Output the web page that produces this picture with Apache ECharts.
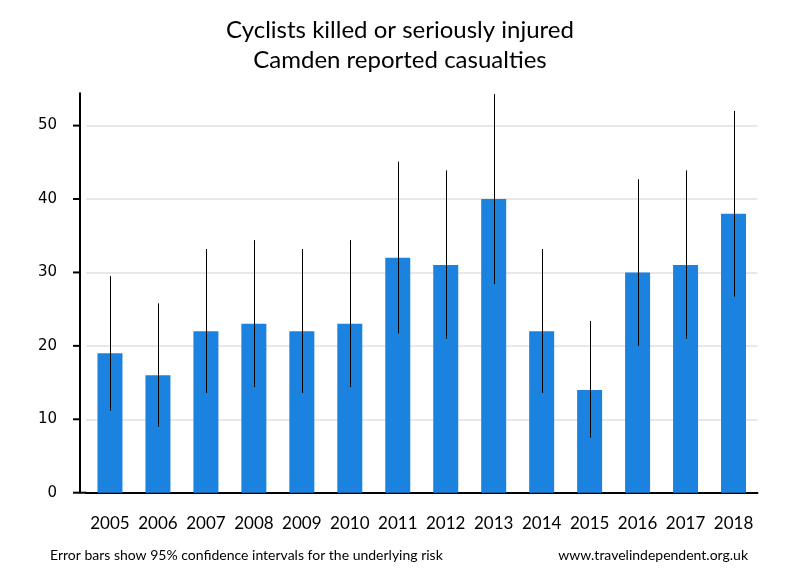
<!DOCTYPE html>
<html>
<head>
<meta charset="utf-8">
<script src="https://cdn.jsdelivr.net/npm/echarts@6/dist/echarts.min.js"></script>
<style>html,body{margin:0;padding:0;background:#fff}#c{width:800px;height:580px}</style>
</head>
<body>
<div id="c"></div>
<script>
const years = ['2005','2006','2007','2008','2009','2010','2011','2012','2013','2014','2015','2016','2017','2018'];
const casualties = [19,16,22,23,22,23,32,31,40,22,14,30,31,38];
const ciLow  = [11.2, 9.0, 13.6, 14.4, 13.6, 14.4, 21.7, 21.0, 28.4, 13.6, 7.5, 20.0, 21.0, 26.7];
const ciHigh = [29.5, 25.8, 33.2, 34.4, 33.2, 34.4, 45.1, 43.9, 54.3, 33.2, 23.4, 42.7, 43.9, 52.0];
const yTicks = [0,10,20,30,40,50];

const AXIS_OFFSET = 6;
const TICK_LEN = 7;

const chart = echarts.init(document.getElementById('c'), null, {renderer:'canvas'});
chart.setOption({
  animation: false,
  backgroundColor: '#ffffff',
  title: [
    {
      text: 'Cyclists killed or seriously injured\nCamden reported casualties',
      left: 'center', top: 10,
      textStyle: {fontFamily: 'Lato', fontSize: 24, fontWeight: 'normal', color: '#000', lineHeight: 30, align: 'center'}
    },
    {
      text: 'Error bars show 95% confidence intervals for the underlying risk',
      left: 45, top: 543,
      textStyle: {fontFamily: 'Lato', fontSize: 14, fontWeight: 'normal', color: '#000'}
    },
    {
      text: 'www.travelindependent.org.uk',
      right: 47, top: 543,
      textStyle: {fontFamily: 'Lato', fontSize: 14, fontWeight: 'normal', color: '#000'}
    }
  ],
  grid: {left: 86, right: 42.5, top: 93.3, bottom: 87.3, containLabel: false},
  xAxis: {
    type: 'category',
    data: years,
    axisLine: {show: true, lineStyle: {color: '#000', width: 2}},
    axisTick: {show: false},
    axisLabel: {fontFamily: 'Lato', fontSize: 17, color: '#000', margin: 22, interval: 0}
  },
  yAxis: {
    type: 'value',
    min: 0, max: 54.4, interval: 10,
    offset: AXIS_OFFSET,
    axisLine: {show: true, lineStyle: {color: '#000', width: 2}},
    axisTick: {show: false},
    axisLabel: {fontFamily: 'DejaVu Sans', fontSize: 15, color: '#000', margin: 23, customValues: yTicks},
    splitLine: {show: true, showMaxLine: false, lineStyle: {color: '#e8e8e8', width: 2}}
  },
  series: [
    {
      type: 'bar',
      data: casualties,
      barWidth: 25,
      itemStyle: {color: '#1b82e0'},
      z: 2
    },
    {
      type: 'custom',
      data: years.map((y, i) => [i, ciLow[i], ciHigh[i]]),
      renderItem: function (params, api) {
        const i = api.value(0);
        const lo = api.coord([i, api.value(1)]);
        const hi = api.coord([i, api.value(2)]);
        return {
          type: 'line',
          shape: {x1: Math.round(lo[0]) + 0.5, y1: lo[1], x2: Math.round(hi[0]) + 0.5, y2: hi[1]},
          style: {stroke: '#000', lineWidth: 1}
        };
      },
      z: 3
    },
    {
      // y-axis tick marks at the labelled values only (drawn through the y scale)
      type: 'custom',
      clip: false,
      silent: true,
      data: yTicks.map(v => [0, v]),
      renderItem: function (params, api) {
        const y = api.coord([0, api.value(1)])[1];
        const axisX = params.coordSys.x - AXIS_OFFSET;
        const x2 = api.value(1) === 0 ? params.coordSys.x : axisX;
        return {
          type: 'line',
          shape: {x1: axisX - TICK_LEN, y1: y, x2: x2, y2: y},
          style: {stroke: '#000', lineWidth: 2}
        };
      },
      z: 4
    }
  ]
});
</script>
</body>
</html>
